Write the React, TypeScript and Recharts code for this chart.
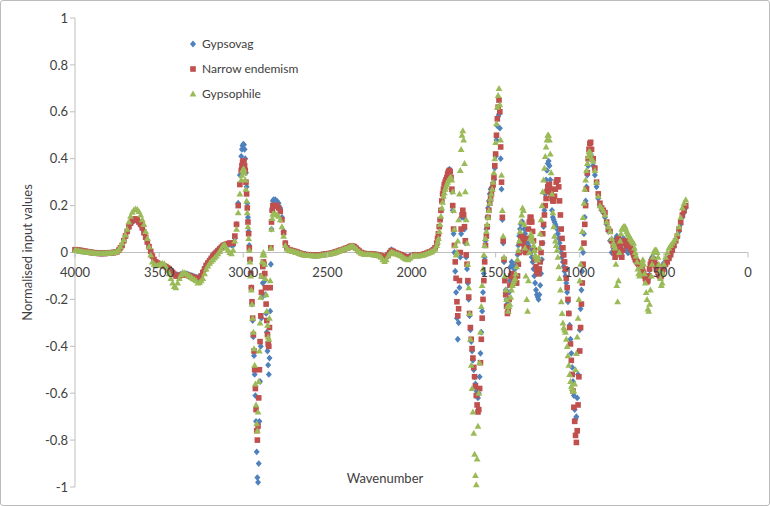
import { CartesianGrid, Legend, Scatter, ScatterChart, XAxis, YAxis } from "recharts";

// wavenumbers (cm-1), shared by the three series
const WAVENUMBERS = [
  4000, 3990, 3980, 3970, 3960, 3950, 3940, 3930, 3920, 3910,
  3900, 3890, 3880, 3870, 3860, 3850, 3840, 3830, 3820, 3810,
  3800, 3790, 3780, 3770, 3760, 3750,
  3740, 3730, 3720, 3710, 3700, 3690, 3680, 3670, 3660, 3650, 3640, 3630, 3620, 3610, 3600, 3590, 3580, 3570, 3560, 3550, 3540, 3530, 3520,
  3510, 3500, 3490, 3480, 3470, 3460, 3450, 3440, 3430, 3420,
  3410, 3400, 3390, 3380, 3370, 3360, 3350, 3340, 3330, 3320,
  3310, 3300, 3290, 3280, 3270, 3260, 3250, 3240, 3230, 3220,
  3210, 3200, 3190, 3180, 3170, 3160, 3150, 3140, 3130, 3120,
  3110, 3100, 3090, 3080, 3070, 3060,
  3050, 3040, 3030, 3020, 3012, 3008, 3004,
  3000, 2996, 2992, 2988, 2984, 2980, 2976, 2972, 2968, 2964, 2960, 2956, 2952, 2948, 2944, 2940, 2936, 2932, 2928, 2924,
  2920, 2916, 2912, 2908, 2904, 2900, 2896, 2892, 2888, 2884, 2880, 2876, 2872, 2868, 2864, 2860, 2856, 2852, 2848, 2844,
  2840, 2836, 2832, 2828, 2824, 2820,
  2810, 2800, 2790, 2780, 2770, 2760, 2750, 2740, 2730, 2720, 2710, 2700,
  2690, 2680, 2670, 2660, 2650, 2640, 2630, 2620, 2610, 2600,
  2590, 2580, 2570, 2560, 2550, 2540, 2530, 2520, 2510, 2500,
  2490, 2480, 2470, 2460, 2450, 2440, 2430, 2420, 2410, 2400,
  2390, 2380, 2370, 2360, 2350, 2340, 2330, 2320, 2310, 2300,
  2290, 2280, 2270, 2260, 2250, 2240, 2230, 2220, 2210, 2200,
  2190, 2180, 2170, 2160, 2150, 2140, 2130, 2120, 2110, 2100,
  2090, 2080, 2070, 2060, 2050, 2040, 2030, 2020, 2010, 2000,
  1990, 1980, 1970, 1960, 1950, 1940, 1930, 1920, 1910, 1900,
  1890, 1880, 1870, 1860,
  1850, 1845, 1840, 1835, 1830, 1825, 1820, 1815, 1810, 1805,
  1800, 1795, 1790, 1785, 1780, 1775, 1770, 1765, 1760, 1755,
  1750, 1745, 1740, 1735, 1730, 1725, 1720, 1715, 1710, 1705,
  1700, 1695, 1690, 1685, 1680, 1675, 1670, 1665, 1660, 1655,
  1650, 1645, 1640, 1635, 1630, 1625, 1620, 1615, 1610, 1605,
  1600, 1595, 1590, 1585, 1580, 1575, 1570, 1565, 1560, 1555,
  1550, 1545, 1540, 1535, 1530, 1525, 1520, 1515, 1510, 1505,
  1500, 1495, 1490, 1485, 1480, 1475, 1470, 1465, 1460, 1455,
  1450, 1445, 1440, 1435, 1430, 1425, 1420,
  1415, 1410, 1405, 1400, 1395, 1390, 1385, 1380, 1375, 1370,
  1365, 1360, 1355, 1350, 1345, 1340, 1335, 1330, 1325, 1320,
  1315, 1310, 1305, 1300, 1295, 1290, 1285, 1280, 1275, 1270,
  1265, 1260, 1255, 1250, 1245, 1240, 1235, 1230, 1225, 1220,
  1215, 1210, 1205, 1200, 1195, 1190, 1185, 1180, 1175, 1170,
  1165, 1160, 1155, 1150, 1145, 1140, 1135, 1130, 1125, 1120,
  1115, 1110, 1105, 1100, 1095, 1090, 1085, 1080, 1075, 1070,
  1065, 1060, 1055, 1050, 1045, 1040, 1035, 1030, 1025, 1020,
  1015, 1010, 1005, 1000, 995, 990, 985, 980, 975, 970,
  965, 960, 955, 950, 945, 940, 935, 930,
  920, 910, 900, 890, 880, 870, 860, 850, 840, 830, 820, 810,
  800, 795, 790, 785, 780, 775, 770, 765, 760, 755,
  750, 745, 740, 735, 730, 725, 720, 715, 710, 705,
  700, 695, 690, 685, 680, 675, 670, 665, 660, 655,
  650, 645, 640, 635, 630, 625, 620, 615, 610, 605,
  600, 595, 590, 585, 580, 575, 570, 565, 560, 555,
  550, 545, 540, 535, 530, 525, 520, 515, 510, 505,
  500,
  490, 480, 470, 460, 450, 440, 430, 420, 410, 400, 390, 380, 370,
];

const GYPSOVAG = [
  0.01, 0.009, 0.008, 0.007, 0.006, 0.005, 0.004, 0.003, 0.002, 0.001,
  0, -0.001, -0.002, -0.002, -0.003, -0.003, -0.003, -0.003, -0.003, -0.003,
  -0.002, -0.002, -0.001, 0, 0.001, 0.003,
  0.01, 0.02, 0.03, 0.05, 0.07, 0.09, 0.105, 0.12, 0.13, 0.137, 0.138, 0.135, 0.125, 0.115, 0.1, 0.08, 0.06, 0.04, 0.02, 0, -0.02, -0.035, -0.045,
  -0.05, -0.05, -0.052, -0.055, -0.058, -0.06, -0.065, -0.07, -0.078, -0.085,
  -0.09, -0.095, -0.095, -0.095, -0.092, -0.09, -0.09, -0.09, -0.092, -0.095,
  -0.098, -0.1, -0.103, -0.105, -0.107, -0.105, -0.095, -0.08, -0.065, -0.05,
  -0.04, -0.03, -0.02, -0.01, -0.002, 0.005, 0.012, 0.02, 0.025, 0.03,
  0.032, 0.035, 0.035, 0.035, 0.032, 0.03,
  0.06, 0.12, 0.21, 0.33, 0.41, 0.44, 0.455,
  0.462, 0.46, 0.44, 0.4, 0.34, 0.28, 0.21, 0.15, 0.09, 0.03, -0.03, -0.09, -0.15, -0.22, -0.29, -0.36, -0.44, -0.52, -0.61, -0.72,
  -0.85, -0.96, -0.98, -0.9, -0.72, -0.55, -0.4, -0.28, -0.19, -0.13, -0.1, -0.09, -0.12, -0.18, -0.26, -0.34, -0.42, -0.48, -0.52, -0.45,
  -0.25, -0.05, 0.1, 0.18, 0.22, 0.225,
  0.225, 0.22, 0.21, 0.19, 0.15, 0.09, 0.04, 0.02, 0.012, 0.01, 0.008, 0.006,
  0.004, 0.002, -0.001, -0.004, -0.006, -0.008, -0.009, -0.01, -0.01, -0.01,
  -0.011, -0.012, -0.012, -0.012, -0.011, -0.01, -0.009, -0.008, -0.007, -0.006,
  -0.005, -0.004, -0.002, 0, 0.002, 0.005, 0.008, 0.01, 0.012, 0.015,
  0.018, 0.02, 0.024, 0.027, 0.027, 0.025, 0.019, 0.012, 0.006, 0,
  -0.003, -0.005, -0.006, -0.006, -0.006, -0.006, -0.007, -0.008, -0.009, -0.01,
  -0.012, -0.015, -0.018, -0.02, -0.016, -0.008, 0.002, 0.012, 0.008, 0.002,
  -0.002, -0.004, -0.007, -0.01, -0.013, -0.016, -0.018, -0.02, -0.017, -0.014,
  -0.012, -0.01, -0.011, -0.012, -0.011, -0.01, -0.008, -0.006, -0.003, 0,
  0.003, 0.006, 0.012, 0.02,
  0.04, 0.06, 0.08, 0.11, 0.14, 0.18, 0.22, 0.25, 0.27, 0.29,
  0.3, 0.31, 0.32, 0.335, 0.35, 0.355, 0.35, 0.32, 0.26, 0.18,
  0.08, 0, -0.08, -0.17, -0.28, -0.37, -0.3, -0.15, -0.02, 0.08,
  0.15, 0.17, 0.15, 0.1, 0.04, -0.02, -0.07, -0.13, -0.2, -0.27,
  -0.33, -0.38, -0.42, -0.46, -0.5, -0.53, -0.56, -0.59, -0.61, -0.62,
  -0.6, -0.53, -0.43, -0.34, -0.25, -0.17, -0.09, -0.02, 0.05, 0.1,
  0.15, 0.19, 0.22, 0.25, 0.27, 0.275, 0.27, 0.28, 0.31, 0.36,
  0.41, 0.48, 0.54, 0.58, 0.59, 0.53, 0.4, 0.27, 0.14, 0.04,
  -0.04, -0.11, -0.16, -0.2, -0.22, -0.21, -0.17,
  -0.12, -0.06, -0.04, -0.05, -0.06, -0.07, -0.07, -0.06, -0.04, -0.01,
  0.03, 0.07, 0.1, 0.12, 0.13, 0.13, 0.12, 0.1, 0.08, 0.06,
  0.05, 0.04, 0.03, 0.02, 0.01, 0, -0.02, -0.04, -0.07, -0.1,
  -0.13, -0.16, -0.18, -0.19, -0.2, -0.18, -0.14, -0.09, -0.03, 0.04,
  0.11, 0.18, 0.25, 0.31, 0.35, 0.38, 0.39, 0.37, 0.31, 0.24,
  0.18, 0.15, 0.14, 0.13, 0.12, 0.11, 0.1, 0.08, 0.06, 0.04,
  0.02, 0, -0.02, -0.04, -0.06, -0.08, -0.1, -0.13, -0.17, -0.21,
  -0.26, -0.31, -0.37, -0.43, -0.49, -0.55, -0.61, -0.67, -0.71, -0.7,
  -0.62, -0.52, -0.42, -0.33, -0.24, -0.16, -0.08, 0, 0.08, 0.15,
  0.22, 0.28, 0.33, 0.37, 0.4, 0.42, 0.42, 0.41,
  0.37, 0.33, 0.28, 0.23, 0.2, 0.18, 0.17, 0.15, 0.12, 0.09, 0.05, 0,
  0.02, 0.035, 0.05, 0.06, 0.07, 0.065, 0.06, 0.05, 0.04, 0.045,
  0.05, 0.055, 0.06, 0.05, 0.04, 0.025, 0.01, 0, 0, 0.01,
  0.02, 0.015, 0.01, 0, -0.01, -0.015, -0.02, -0.03, -0.04, -0.045,
  -0.05, -0.055, -0.06, -0.065, -0.07, -0.08, -0.09, -0.1, -0.11, -0.115,
  -0.12, -0.115, -0.1, -0.075, -0.05, -0.03, -0.02, -0.02, -0.025, -0.035,
  -0.045, -0.055, -0.065, -0.07, -0.075, -0.08, -0.08, -0.075, -0.065, -0.055,
  -0.045,
  -0.04, -0.035, -0.025, -0.01, 0.005, 0.025, 0.045, 0.065, 0.09, 0.12, 0.15, 0.17, 0.19,
];

const NARROW_ENDEMISM = [
  0.012, 0.011, 0.01, 0.009, 0.008, 0.006, 0.005, 0.004, 0.003, 0.001,
  0, -0.001, -0.002, -0.003, -0.004, -0.004, -0.004, -0.004, -0.004, -0.003,
  -0.003, -0.002, -0.001, 0, 0.001, 0.003,
  0.01, 0.02, 0.03, 0.05, 0.07, 0.09, 0.11, 0.125, 0.135, 0.142, 0.143, 0.14, 0.13, 0.12, 0.105, 0.085, 0.065, 0.045, 0.025, 0.005, -0.015, -0.03, -0.04,
  -0.045, -0.05, -0.052, -0.055, -0.058, -0.06, -0.065, -0.07, -0.078, -0.085,
  -0.093, -0.1, -0.1, -0.1, -0.097, -0.095, -0.095, -0.095, -0.097, -0.1,
  -0.103, -0.105, -0.108, -0.11, -0.112, -0.11, -0.1, -0.085, -0.07, -0.055,
  -0.045, -0.035, -0.025, -0.015, -0.007, 0, 0.008, 0.015, 0.022, 0.03,
  0.033, 0.035, 0.038, 0.04, 0.04, 0.04,
  0.07, 0.12, 0.2, 0.29, 0.35, 0.37, 0.385,
  0.39, 0.39, 0.37, 0.35, 0.3, 0.25, 0.19, 0.13, 0.08, 0.02, -0.03, -0.09, -0.15, -0.21, -0.28, -0.35, -0.42, -0.5, -0.58, -0.67,
  -0.76, -0.8, -0.74, -0.62, -0.5, -0.38, -0.27, -0.17, -0.1, -0.06, -0.04, -0.05, -0.09, -0.15, -0.22, -0.29, -0.35, -0.39, -0.4, -0.32,
  -0.15, 0.02, 0.13, 0.18, 0.2, 0.2,
  0.2, 0.2, 0.19, 0.175, 0.14, 0.085, 0.04, 0.02, 0.012, 0.01, 0.008, 0.006,
  0.004, 0.002, -0.001, -0.004, -0.006, -0.008, -0.009, -0.01, -0.01, -0.01,
  -0.011, -0.012, -0.012, -0.012, -0.011, -0.01, -0.009, -0.008, -0.007, -0.006,
  -0.005, -0.004, -0.002, 0, 0.002, 0.005, 0.008, 0.01, 0.012, 0.015,
  0.018, 0.02, 0.024, 0.027, 0.027, 0.025, 0.019, 0.012, 0.006, 0,
  -0.003, -0.005, -0.006, -0.006, -0.006, -0.006, -0.007, -0.008, -0.009, -0.01,
  -0.012, -0.015, -0.018, -0.02, -0.016, -0.01, -0.001, 0.008, 0.005, 0,
  -0.003, -0.005, -0.008, -0.01, -0.014, -0.018, -0.02, -0.022, -0.019, -0.015,
  -0.012, -0.01, -0.011, -0.012, -0.011, -0.01, -0.008, -0.006, -0.003, 0,
  0.003, 0.006, 0.012, 0.02,
  0.04, 0.06, 0.08, 0.11, 0.14, 0.18, 0.22, 0.25, 0.27, 0.29,
  0.3, 0.31, 0.32, 0.335, 0.345, 0.35, 0.345, 0.32, 0.27, 0.2,
  0.1, 0.03, -0.04, -0.11, -0.21, -0.27, -0.24, -0.12, 0, 0.1,
  0.16, 0.18, 0.16, 0.11, 0.05, -0.01, -0.05, -0.12, -0.19, -0.26,
  -0.32, -0.37, -0.41, -0.45, -0.49, -0.53, -0.57, -0.61, -0.65, -0.68,
  -0.67, -0.58, -0.47, -0.37, -0.28, -0.2, -0.12, -0.04, 0.03, 0.07,
  0.11, 0.15, 0.18, 0.21, 0.23, 0.25, 0.27, 0.29, 0.32, 0.37,
  0.42, 0.5, 0.57, 0.62, 0.65, 0.6, 0.45, 0.3, 0.15, 0.05,
  -0.03, -0.12, -0.18, -0.23, -0.26, -0.25, -0.2,
  -0.14, -0.1, -0.09, -0.1, -0.11, -0.12, -0.12, -0.13, -0.13, -0.1,
  -0.05, 0, 0.04, 0.06, 0.07, 0.06, 0.04, 0.02, 0.005, 0,
  0.02, 0.06, 0.1, 0.13, 0.15, 0.15, 0.13, 0.09, 0.05, 0.01,
  -0.03, -0.06, -0.08, -0.09, -0.09, -0.07, -0.04, 0, 0.04, 0.08,
  0.12, 0.16, 0.2, 0.23, 0.26, 0.28, 0.29, 0.29, 0.27, 0.25,
  0.23, 0.22, 0.22, 0.24, 0.27, 0.3, 0.31, 0.31, 0.28, 0.22,
  0.16, 0.1, 0.06, 0.02, -0.01, -0.04, -0.07, -0.11, -0.15, -0.2,
  -0.26, -0.32, -0.39, -0.46, -0.52, -0.59, -0.66, -0.72, -0.78, -0.81,
  -0.76, -0.65, -0.53, -0.42, -0.32, -0.22, -0.13, -0.05, 0.04, 0.12,
  0.2, 0.27, 0.34, 0.4, 0.44, 0.465, 0.47, 0.44,
  0.4, 0.36, 0.3, 0.25, 0.21, 0.19, 0.18, 0.17, 0.13, 0.1, 0.09, 0.05,
  0.03, 0, -0.02, 0, 0.02, 0.05, 0.06, 0.04, 0.02, -0.01,
  -0.02, 0.01, 0.04, 0.05, 0.05, 0.04, 0.03, 0.035, 0.04, 0.03,
  0.02, 0.015, 0.01, 0, -0.01, -0.02, -0.03, -0.035, -0.04, -0.045,
  -0.05, -0.055, -0.06, -0.065, -0.07, -0.08, -0.09, -0.1, -0.11, -0.12,
  -0.125, -0.12, -0.1, -0.07, -0.05, -0.04, -0.035, -0.03, -0.035, -0.045,
  -0.055, -0.065, -0.075, -0.085, -0.095, -0.1, -0.105, -0.1, -0.09, -0.07,
  -0.06,
  -0.05, -0.04, -0.025, -0.01, 0.01, 0.03, 0.05, 0.07, 0.1, 0.13, 0.16, 0.18, 0.2,
];

const GYPSOPHILE = [
  0.01, 0.009, 0.008, 0.006, 0.005, 0.004, 0.003, 0.002, 0.001, 0,
  -0.001, -0.002, -0.003, -0.003, -0.004, -0.004, -0.004, -0.004, -0.003, -0.003,
  -0.002, -0.002, -0.001, 0, 0.002, 0.005,
  0.012, 0.025, 0.04, 0.055, 0.075, 0.1, 0.13, 0.155, 0.172, 0.182, 0.186, 0.184, 0.175, 0.16, 0.14, 0.12, 0.09, 0.06, 0.025, -0.01, -0.04, -0.05, -0.055,
  -0.055, -0.052, -0.048, -0.046, -0.048, -0.06, -0.075, -0.09, -0.11, -0.13,
  -0.145, -0.15, -0.13, -0.11, -0.095, -0.085, -0.087, -0.09, -0.095, -0.1,
  -0.105, -0.11, -0.115, -0.12, -0.13, -0.128, -0.12, -0.11, -0.09, -0.07,
  -0.057, -0.045, -0.037, -0.03, -0.022, -0.015, -0.005, 0.005, 0.018, 0.03,
  0.033, 0.02, 0.01, 0, -0.005, 0.01,
  0.05, 0.1, 0.17, 0.25, 0.31, 0.33, 0.35,
  0.356, 0.355, 0.34, 0.31, 0.27, 0.22, 0.17, 0.11, 0.06, 0.01, -0.04, -0.1, -0.16, -0.22, -0.28, -0.34, -0.41, -0.48, -0.56, -0.65,
  -0.73, -0.76, -0.68, -0.55, -0.42, -0.3, -0.19, -0.1, -0.04, -0.01, 0, -0.01, -0.05, -0.11, -0.18, -0.25, -0.31, -0.36, -0.37, -0.28,
  -0.12, 0.02, 0.1, 0.145, 0.165, 0.165,
  0.165, 0.16, 0.155, 0.14, 0.11, 0.07, 0.03, 0.015, 0.01, 0.008, 0.006, 0.005,
  0.002, 0, -0.003, -0.005, -0.007, -0.01, -0.011, -0.012, -0.012, -0.012,
  -0.013, -0.014, -0.014, -0.014, -0.013, -0.012, -0.011, -0.01, -0.009, -0.008,
  -0.006, -0.005, -0.003, -0.002, 0.001, 0.004, 0.007, 0.01, 0.012, 0.015,
  0.018, 0.02, 0.024, 0.028, 0.028, 0.024, 0.018, 0.01, 0.004, -0.002,
  -0.005, -0.007, -0.008, -0.008, -0.008, -0.008, -0.009, -0.01, -0.011, -0.012,
  -0.015, -0.02, -0.03, -0.038, -0.03, -0.015, -0.005, 0.003, 0, -0.004,
  -0.006, -0.008, -0.011, -0.014, -0.02, -0.025, -0.028, -0.03, -0.024, -0.018,
  -0.014, -0.012, -0.013, -0.014, -0.013, -0.012, -0.01, -0.008, -0.005, -0.002,
  0.001, 0.004, 0.009, 0.015,
  0.03, 0.045, 0.06, 0.09, 0.12, 0.155, 0.19, 0.215, 0.24, 0.255,
  0.27, 0.28, 0.29, 0.3, 0.31, 0.315, 0.32, 0.32, 0.31, 0.26,
  0.18, 0.1, 0.03, -0.01, 0, 0.05, 0.14, 0.25, 0.35, 0.44,
  0.5, 0.52, 0.48, 0.38, 0.26, 0.14, 0.04, -0.05, -0.15, -0.26,
  -0.37, -0.48, -0.58, -0.68, -0.77, -0.86, -0.95, -0.99, -0.88, -0.74,
  -0.6, -0.47, -0.34, -0.23, -0.14, -0.07, -0.01, 0.03, 0.06, 0.09,
  0.12, 0.15, 0.18, 0.21, 0.23, 0.25, 0.27, 0.3, 0.34, 0.4,
  0.47, 0.55, 0.62, 0.67, 0.7, 0.63, 0.48, 0.33, 0.18, 0.07,
  -0.02, -0.1, -0.16, -0.2, -0.23, -0.25, -0.23,
  -0.22, -0.19, -0.16, -0.14, -0.13, -0.12, -0.11, -0.09, -0.06, -0.03,
  0.01, 0.05, 0.09, 0.13, 0.16, 0.19, 0.18, 0.12, 0.02, -0.1,
  -0.2, -0.25, -0.12, 0, 0.06, 0.08, 0.07, 0.05, 0.03, 0.01,
  -0.01, -0.02, -0.03, -0.03, -0.02, 0.02, 0.08, 0.14, 0.2, 0.26,
  0.31, 0.36, 0.41, 0.45, 0.48, 0.5, 0.5, 0.48, 0.42, 0.34,
  0.25, 0.17, 0.11, 0.07, 0.05, 0.03, 0.01, -0.02, -0.06, -0.11,
  -0.16, -0.21, -0.26, -0.3, -0.32, -0.33, -0.34, -0.37, -0.4, -0.44,
  -0.48, -0.52, -0.55, -0.57, -0.58, -0.59, -0.59, -0.56, -0.5, -0.43,
  -0.36, -0.28, -0.2, -0.12, -0.05, 0.02, 0.09, 0.15, 0.21, 0.27,
  0.31, 0.35, 0.38, 0.41, 0.43, 0.43, 0.42, 0.4,
  0.39, 0.35, 0.3, 0.24, 0.2, 0.19, 0.18, 0.16, 0.13, 0.11, 0.09, 0.06,
  0.04, 0.03, 0.02, -0.05, -0.14, -0.21, -0.12, 0, 0.05, 0.08,
  0.1, 0.105, 0.11, 0.11, 0.11, 0.1, 0.09, 0.08, 0.075, 0.07,
  0.06, 0.055, 0.05, 0.045, 0.04, 0.02, 0, -0.015, -0.04, -0.07,
  -0.09, -0.1, -0.09, -0.06, -0.04, -0.03, -0.05, -0.09, -0.13, -0.17,
  -0.2, -0.24, -0.25, -0.22, -0.16, -0.1, -0.05, -0.02, 0, 0.01,
  0.01, 0.01, 0, -0.02, -0.05, -0.08, -0.11, -0.14, -0.13, -0.09,
  -0.05,
  -0.02, 0, 0.02, 0.03, 0.04, 0.05, 0.06, 0.08, 0.11, 0.15, 0.19, 0.21, 0.225,
];

const X_TICKS = [4000, 3500, 3000, 2500, 2000, 1500, 1000, 500, 0];
const Y_TICKS = [-1, -0.8, -0.6, -0.4, -0.2, 0, 0.2, 0.4, 0.6, 0.8, 1];

const CHART_W = 768;
const CHART_H = 504;
const MARGIN = { top: 17, right: 21, bottom: 17, left: 10 };
const X_AXIS_H = 1;
const PLOT_H = CHART_H - MARGIN.top - MARGIN.bottom - X_AXIS_H;
const ZERO_Y = MARGIN.top + PLOT_H / 2;

const AXIS_COLOR = "#BFBFBF";
const TEXT_COLOR = "#404040";
const FONT = "Lato, 'Open Sans', sans-serif";

function Diamond({ cx, cy, color }: any) {
  return (
    <path
      d={`M${cx} ${cy - 3.4}L${cx + 3} ${cy}L${cx} ${cy + 3.4}L${cx - 3} ${cy}Z`}
      fill={color}
    />
  );
}

function Square({ cx, cy, color }: any) {
  return <rect x={cx - 2.8} y={cy - 2.8} width={5.6} height={5.6} fill={color} />;
}

function Triangle({ cx, cy, color }: any) {
  return (
    <path
      d={`M${cx} ${cy - 3.4}L${cx + 3.4} ${cy + 2.6}L${cx - 3.4} ${cy + 2.6}Z`}
      fill={color}
    />
  );
}

const SERIES = [
  { name: "Gypsovag", values: GYPSOVAG, color: "#4F81BD", Marker: Diamond },
  { name: "Narrow endemism", values: NARROW_ENDEMISM, color: "#C0504D", Marker: Square },
  { name: "Gypsophile", values: GYPSOPHILE, color: "#9BBB59", Marker: Triangle },
];

const toPoints = (values: number[]) =>
  WAVENUMBERS.map((wn, i) => ({ wn, v: values[i] }));

// x axis crosses at y = 0, so its ticks are drawn on the zero line
function WaveTick({ x, payload }: any) {
  return (
    <g>
      <line x1={x} x2={x} y1={ZERO_Y} y2={ZERO_Y + 5} stroke={AXIS_COLOR} />
      <text x={x} y={ZERO_Y + 24} textAnchor="middle" fill={TEXT_COLOR} fontSize={13}>
        {payload.value}
      </text>
    </g>
  );
}

function WaveTitle() {
  return (
    <text
      x={CHART_W / 2}
      y={MARGIN.top + PLOT_H - 4}
      textAnchor="middle"
      fill={TEXT_COLOR}
      fontSize={13}
    >
      Wavenumber
    </text>
  );
}

function LegendBox() {
  return (
    <div style={{ fontFamily: FONT, fontSize: 12, color: TEXT_COLOR }}>
      {SERIES.map(({ name, color, Marker }) => (
        <div key={name} style={{ display: "flex", alignItems: "center", height: 25 }}>
          <svg width={10} height={10}>
            <Marker cx={5} cy={5} color={color} />
          </svg>
          <span style={{ marginLeft: 4 }}>{name}</span>
        </div>
      ))}
    </div>
  );
}

export default function App() {
  return (
    <div
      style={{
        position: "relative",
        width: 770,
        height: 506,
        boxSizing: "border-box",
        border: "1px solid #BBBBBB",
        borderRadius: 3,
        background: "#fff",
        fontFamily: FONT,
      }}
    >
      <style>{"body { margin: 0; }"}</style>
      <ScatterChart width={CHART_W} height={CHART_H} margin={MARGIN}>
        <CartesianGrid horizontalValues={[0]} vertical={false} stroke={AXIS_COLOR} />
        <XAxis
          type="number"
          dataKey="wn"
          domain={[0, 4000]}
          reversed
          ticks={X_TICKS}
          interval={0}
          height={X_AXIS_H}
          axisLine={false}
          tickLine={false}
          tick={(p: any) => <WaveTick {...p} />}
          label={<WaveTitle />}
        />
        <YAxis
          type="number"
          dataKey="v"
          domain={[-1, 1]}
          ticks={Y_TICKS}
          interval={0}
          width={64}
          stroke={AXIS_COLOR}
          tickSize={5}
          tickMargin={2}
          tick={{ fill: TEXT_COLOR, fontSize: 13 }}
          tickFormatter={(v) => String(v)}
          label={{
            value: "Normalised input values",
            angle: -90,
            position: "insideLeft",
            offset: 16,
            style: { textAnchor: "middle", fill: TEXT_COLOR, fontSize: 13 },
          }}
        />
        <Legend
          layout="vertical"
          align="center"
          verticalAlign="middle"
          wrapperStyle={{ left: 187, top: 30, width: "auto", height: "auto" }}
          content={() => <LegendBox />}
        />
        {SERIES.map(({ name, values, color, Marker }) => (
          <Scatter
            key={name}
            name={name}
            data={toPoints(values)}
            fill={color}
            isAnimationActive={false}
            shape={(p: any) => <Marker cx={p.cx} cy={p.cy} color={color} />}
          />
        ))}
      </ScatterChart>
    </div>
  );
}
